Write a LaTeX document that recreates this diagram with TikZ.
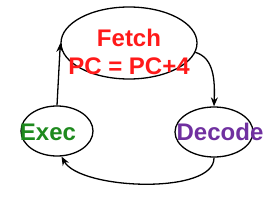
\documentclass[tikz,border=0pt]{standalone}
\usepackage{fontspec}
\setmainfont{Liberation Sans}
\usetikzlibrary{shapes.geometric, arrows.meta, positioning}
\definecolor{fetchred}{HTML}{FF1A1A}
\definecolor{execgreen}{HTML}{1E8A1E}
\definecolor{decodepurple}{HTML}{7030A0}

\begin{document}
\begin{tikzpicture}[x=1pt, y=-1pt,
  stage/.style={ellipse, draw, line width=1.3pt, inner sep=0pt},
  label/.style={font=\fontsize{24}{28}\selectfont\bfseries, align=center, inner sep=0pt},
  flow/.style={line width=1.3pt, -{Stealth[length=9pt, width=7pt]}}]
  \useasboundingbox (0,0) rectangle (280,208);

  % Stages
  \node[stage, minimum width=136pt, minimum height=72pt] (fetch) at (129,43) {};
  \node[stage, minimum width=72pt, minimum height=50pt] (exec) at (57,131) {};
  \node[stage, minimum width=78pt, minimum height=50pt] (decode) at (214,132) {};

  % Texts
  \node[label, text=fetchred] (fetchtxt) at (129,52) {Fetch\\PC = PC+4};
  \node[label, text=execgreen] (exectxt) at (48,132) {Exec};
  \node[label, text=decodepurple] (decodetxt) at (220,132) {Decode};

  % Cycle
  \draw[flow] (fetch.-8) .. controls (214,58) and (215,80) .. (decode.north);
  \draw[flow] (decode.south) .. controls (215,195) and (80,190) .. (exec.-80);
  \draw[flow] (exec.north) -- (fetch.west);
\end{tikzpicture}
\end{document}
